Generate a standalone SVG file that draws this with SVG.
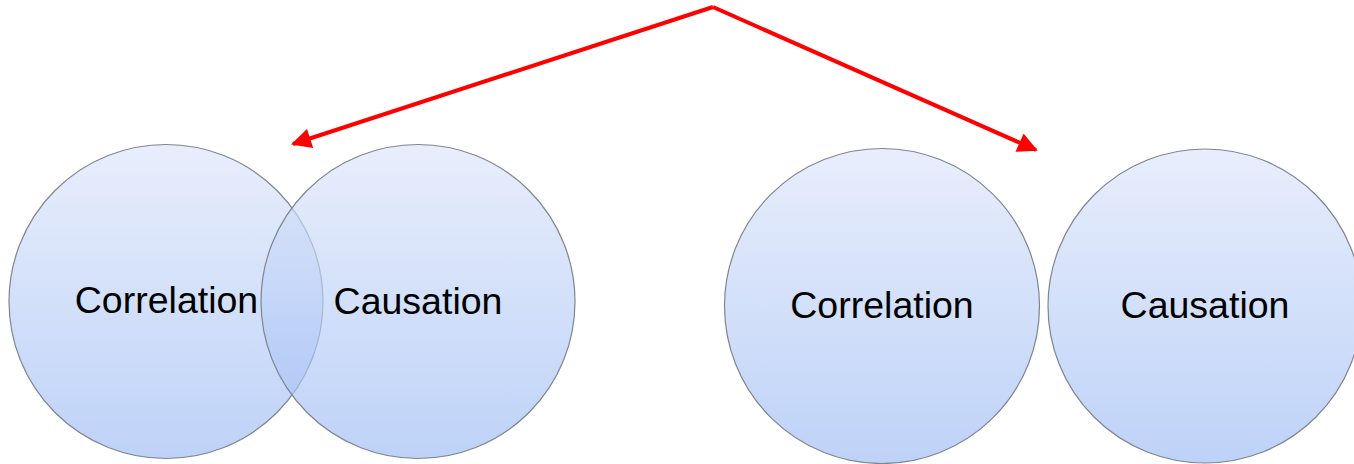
<svg xmlns="http://www.w3.org/2000/svg" width="1354" height="464" viewBox="0 0 1354 464">
<defs>
<linearGradient id="g" x1="0" y1="0" x2="0" y2="1">
<stop offset="0" stop-color="rgb(220,229,250)"/>
<stop offset="1" stop-color="rgb(156,187,244)"/>
</linearGradient>
<marker id="ah" viewBox="0 0 10 10" refX="9" refY="5" markerWidth="5.5" markerHeight="5" orient="auto" markerUnits="strokeWidth">
<path d="M0,0 L10,5 L0,10 z" fill="#ff0000"/>
</marker>
<style>
.c{fill:url(#g);fill-opacity:0.66;stroke:#7f8590;stroke-width:1.2}
.t{font-family:"Liberation Sans",Arial,sans-serif;font-size:37.5px;fill:#000;text-anchor:middle}
.a{stroke:#ff0000;stroke-width:4;fill:none;marker-end:url(#ah)}
</style>
</defs>
<rect width="1354" height="464" fill="#fff"/>
<g id="corr1"><circle class="c" cx="166" cy="301.5" r="157"/><text class="t" x="166.5" y="313">Correlation</text></g>
<g id="caus1"><circle class="c" cx="418" cy="301.5" r="157"/><text class="t" x="418" y="314">Causation</text></g>
<g id="corr2"><circle class="c" cx="882" cy="306" r="157.5"/><text class="t" x="882" y="318">Correlation</text></g>
<g id="caus2"><circle class="c" cx="1205" cy="306" r="157"/><text class="t" x="1205" y="318">Causation</text></g>
<g id="connectors">
<path class="a" d="M713,7 L293,144"/>
<path class="a" d="M713,7 L1036,150"/>
</g>
</svg>
